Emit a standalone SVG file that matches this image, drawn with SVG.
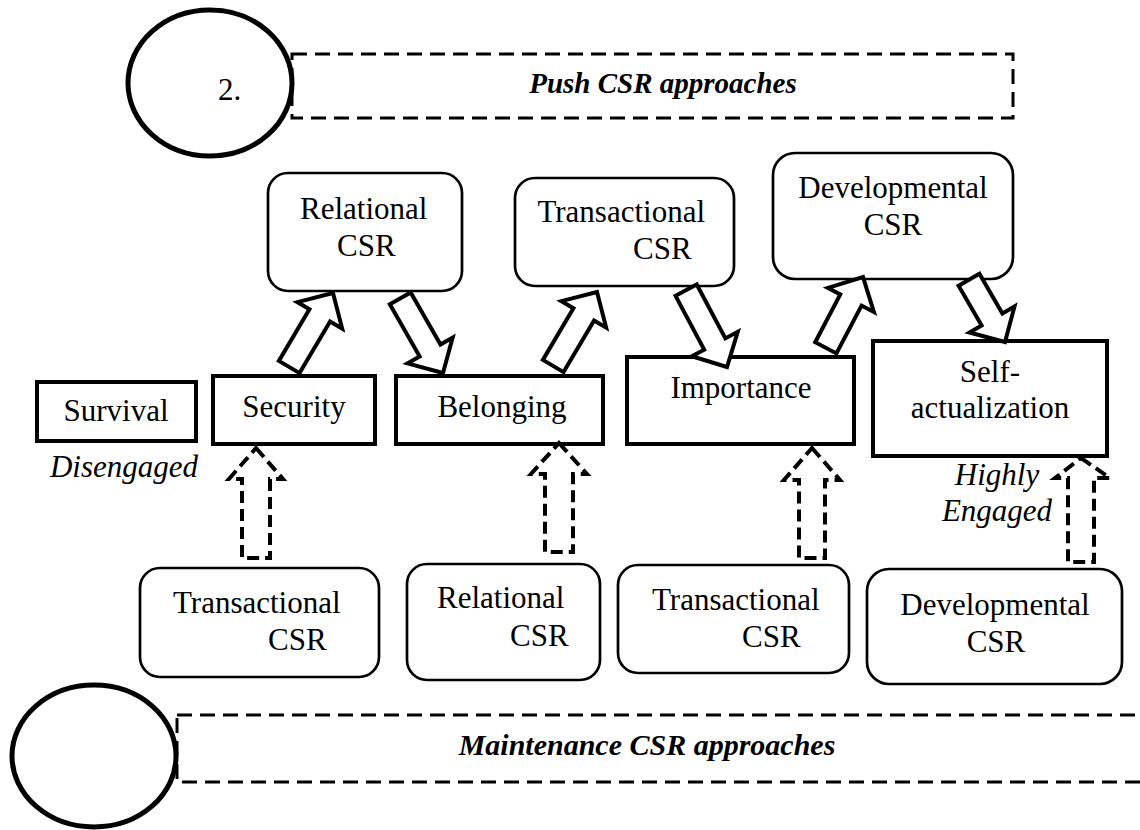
<svg xmlns="http://www.w3.org/2000/svg" width="1140" height="830" viewBox="0 0 1140 830">
<defs>
<style>
.t{font-family:"Liberation Serif","Times New Roman",serif;font-size:31px;fill:#000}
.i{font-style:italic}
.h{font-family:"Liberation Serif","Times New Roman",serif;font-size:30px;font-weight:bold;font-style:italic;fill:#000}
.band{fill:none;stroke:#000;stroke-width:3;stroke-dasharray:15 8}
.circ{fill:none;stroke:#000;stroke-width:5}
.rr{fill:#fff;stroke:#000;stroke-width:2.7}
.sq{fill:#fff;stroke:#000;stroke-width:4}
.ba{fill:#fff;stroke:#000;stroke-width:4;stroke-linejoin:miter}
.da{fill:none;stroke:#000;stroke-width:4;stroke-dasharray:12 6}
</style>
</defs>
<rect width="1140" height="830" fill="#fff"/>

<g id="push-band">
<rect class="band" x="292" y="54" width="721" height="64"/>
<ellipse class="circ" cx="210" cy="83" rx="82" ry="73"/>
<text class="t" x="218" y="100">2.</text>
<text class="h" x="663" y="93" text-anchor="middle" style="font-size:29px">Push CSR approaches</text>
</g>

<g id="maint-band">
<rect class="band" x="177" y="715" width="1000" height="67"/>
<ellipse class="circ" cx="94" cy="756" rx="82" ry="71"/>
<text class="h" x="647" y="755" text-anchor="middle">Maintenance CSR approaches</text>
</g>

<g id="relational-top">
<rect class="rr" x="268" y="173" width="194" height="118" rx="20"/>
<text class="t" x="300" y="219">Relational</text>
<text class="t" x="337" y="256">CSR</text>
</g>
<g id="transactional-top">
<rect class="rr" x="515" y="178" width="219" height="108" rx="20"/>
<text class="t" x="705" y="222" text-anchor="end">Transactional</text>
<text class="t" x="633" y="259">CSR</text>
</g>
<g id="developmental-top">
<rect class="rr" x="773" y="153" width="240" height="126" rx="22"/>
<text class="t" x="893" y="198" text-anchor="middle">Developmental</text>
<text class="t" x="893" y="235" text-anchor="middle">CSR</text>
</g>

<g id="survival">
<rect class="sq" x="37" y="382" width="159" height="59"/>
<text class="t" x="116" y="421" text-anchor="middle">Survival</text>
<text class="t i" x="124" y="477" text-anchor="middle">Disengaged</text>
</g>
<g id="security">
<rect class="sq" x="213" y="376" width="162" height="68"/>
<text class="t" x="294" y="417" text-anchor="middle">Security</text>
</g>
<g id="belonging">
<rect class="sq" x="396" y="376" width="207" height="68"/>
<text class="t" x="502" y="417" text-anchor="middle">Belonging</text>
</g>
<g id="importance">
<rect class="sq" x="627" y="357" width="227" height="87"/>
<text class="t" x="741" y="398" text-anchor="middle">Importance</text>
</g>
<g id="self-actualization">
<rect class="sq" x="873" y="341" width="234" height="115"/>
<text class="t" x="990" y="382" text-anchor="middle">Self-</text>
<text class="t" x="990" y="418" text-anchor="middle">actualization</text>
<text class="t i" x="997" y="485" text-anchor="middle">Highly</text>
<text class="t i" x="997" y="521" text-anchor="middle">Engaged</text>
</g>

<g id="transactional-bottom-1">
<rect class="rr" x="140" y="568" width="239" height="109" rx="20"/>
<text class="t" x="173" y="613">Transactional</text>
<text class="t" x="268" y="650">CSR</text>
</g>
<g id="relational-bottom">
<rect class="rr" x="407" y="564" width="193" height="116" rx="20"/>
<text class="t" x="437" y="608">Relational</text>
<text class="t" x="510" y="646">CSR</text>
</g>
<g id="transactional-bottom-2">
<rect class="rr" x="618" y="565" width="231" height="108" rx="20"/>
<text class="t" x="652" y="610">Transactional</text>
<text class="t" x="742" y="647">CSR</text>
</g>
<g id="developmental-bottom">
<rect class="rr" x="867" y="569" width="255" height="115" rx="22"/>
<text class="t" x="995" y="615" text-anchor="middle">Developmental</text>
<text class="t" x="996" y="652" text-anchor="middle">CSR</text>
</g>

<g id="connectors">
<path class="ba" transform="translate(333,293) rotate(30.6)" d="M0,0 L26,26 L12,26 L12,86 L-12,86 L-12,26 L-26,26 Z"/>
<path class="ba" transform="translate(443,373) rotate(150.2)" d="M0,0 L26,26 L12,26 L12,86 L-12,86 L-12,26 L-26,26 Z"/>
<path class="ba" transform="translate(597,292) rotate(30.6)" d="M0,0 L26,26 L12,26 L12,86 L-12,86 L-12,26 L-26,26 Z"/>
<path class="ba" transform="translate(727,367) rotate(152)" d="M0,0 L26,26 L12,26 L12,87 L-12,87 L-12,26 L-26,26 Z"/>
<path class="ba" transform="translate(863,277) rotate(27.7)" d="M0,0 L26,26 L12,26 L12,80 L-12,80 L-12,26 L-26,26 Z"/>
<path class="ba" transform="translate(1005,342) rotate(150)" d="M0,0 L26,26 L12,26 L12,72 L-12,72 L-12,26 L-26,26 Z"/>
<path class="da" transform="translate(256,448)" d="M0,0 L27,31 L14,31 L14,110 L-14,110 L-14,31 L-27,31 Z"/>
<path class="da" transform="translate(559,443)" d="M0,0 L28,31 L14,31 L14,109 L-14,109 L-14,31 L-28,31 Z"/>
<path class="da" transform="translate(812,448)" d="M0,0 L28,32 L13,32 L13,110 L-13,110 L-13,32 L-28,32 Z"/>
<path class="da" transform="translate(1081,458)" d="M0,0 L29,20 L13,20 L13,104 L-13,104 L-13,20 L-26,20 Z"/>
</g>
</svg>
